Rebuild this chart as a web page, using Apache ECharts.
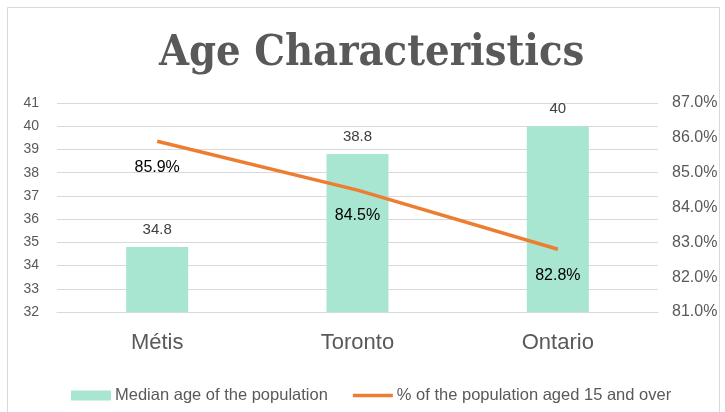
<!DOCTYPE html>
<html><head><meta charset="utf-8">
<script src="https://cdn.jsdelivr.net/npm/echarts@6/dist/echarts.min.js"></script>
<style>html,body{margin:0;padding:0;background:#fff}#c{width:725px;height:412px}</style>
</head><body><div id="c"></div>
<script>
const categories = ['Métis', 'Toronto', 'Ontario'];
const medianAge = [34.8, 38.8, 40];
const pctAged15 = [85.9, 84.5, 82.8];
const seriesNames = ['Median age of the population', '% of the population aged 15 and over'];
const titleText = 'Age Characteristics';

const chart = echarts.init(document.getElementById('c'));
const sans = 'Liberation Sans, Arial, sans-serif';
chart.setOption({
  animation: false,
  backgroundColor: '#fff',
  graphic: [{type:'rect', shape:{x:7.5,y:7.5,width:712,height:420}, style:{fill:'none', stroke:'#d9d9d9', lineWidth:1}, silent:true}],
  title: {text: titleText, left: 154, top: 27,
    textStyle:{fontFamily:'DejaVu Serif Condensed, Liberation Serif, serif', fontWeight:'bold', fontSize:43, color:'#595959'}},
  grid: {left: 57, right: 67, top: 103, bottom: 100},
  legend: {bottom: 3, left: 66, itemGap: 25, itemWidth: 40, itemHeight: 10,
    textStyle:{fontFamily:sans, fontSize:16.5, color:'#595959', padding:[0,0,0,-1]},
    data:[{name:seriesNames[0], icon:'rect'}, {name:seriesNames[1], icon:'path://M0,0L40,0L40,3.5L0,3.5Z'}]},
  xAxis: {type:'category', data: categories,
    axisLine:{lineStyle:{color:'#d9d9d9'}}, axisTick:{show:false},
    axisLabel:{fontFamily:sans, fontSize:22, color:'#595959', margin:20}},
  yAxis: [
    {type:'value', min:32, max:41, interval:1, axisLine:{show:false}, axisTick:{show:false},
      splitLine:{lineStyle:{color:'#d9d9d9'}},
      axisLabel:{fontFamily:sans, fontSize:14, color:'#595959', margin:18}},
    {type:'value', min:81, max:87, interval:1, position:'right', axisLine:{show:false}, axisTick:{show:false},
      splitLine:{show:false},
      axisLabel:{fontFamily:sans, fontSize:16, color:'#595959', margin:14, formatter: v => v.toFixed(1) + '%'}}
  ],
  series: [
    {name: seriesNames[0], type:'bar', data: medianAge, barWidth: 62, itemStyle:{color:'#a8e6d1'},
      label:{show:true, position:'top', distance:10, fontFamily:sans, fontSize:15, color:'#404040'}},
    {name: seriesNames[1], type:'line', yAxisIndex:1, data: pctAged15, symbol:'circle', symbolSize:0.01, showSymbol:true,
      lineStyle:{color:'#ed7d31', width:3.5}, itemStyle:{color:'#ed7d31'},
      label:{show:true, position:'bottom', distance:18, fontFamily:sans, fontSize:16, color:'#000',
        formatter: p => p.value.toFixed(1) + '%'}}
  ]
});
</script></body></html>
